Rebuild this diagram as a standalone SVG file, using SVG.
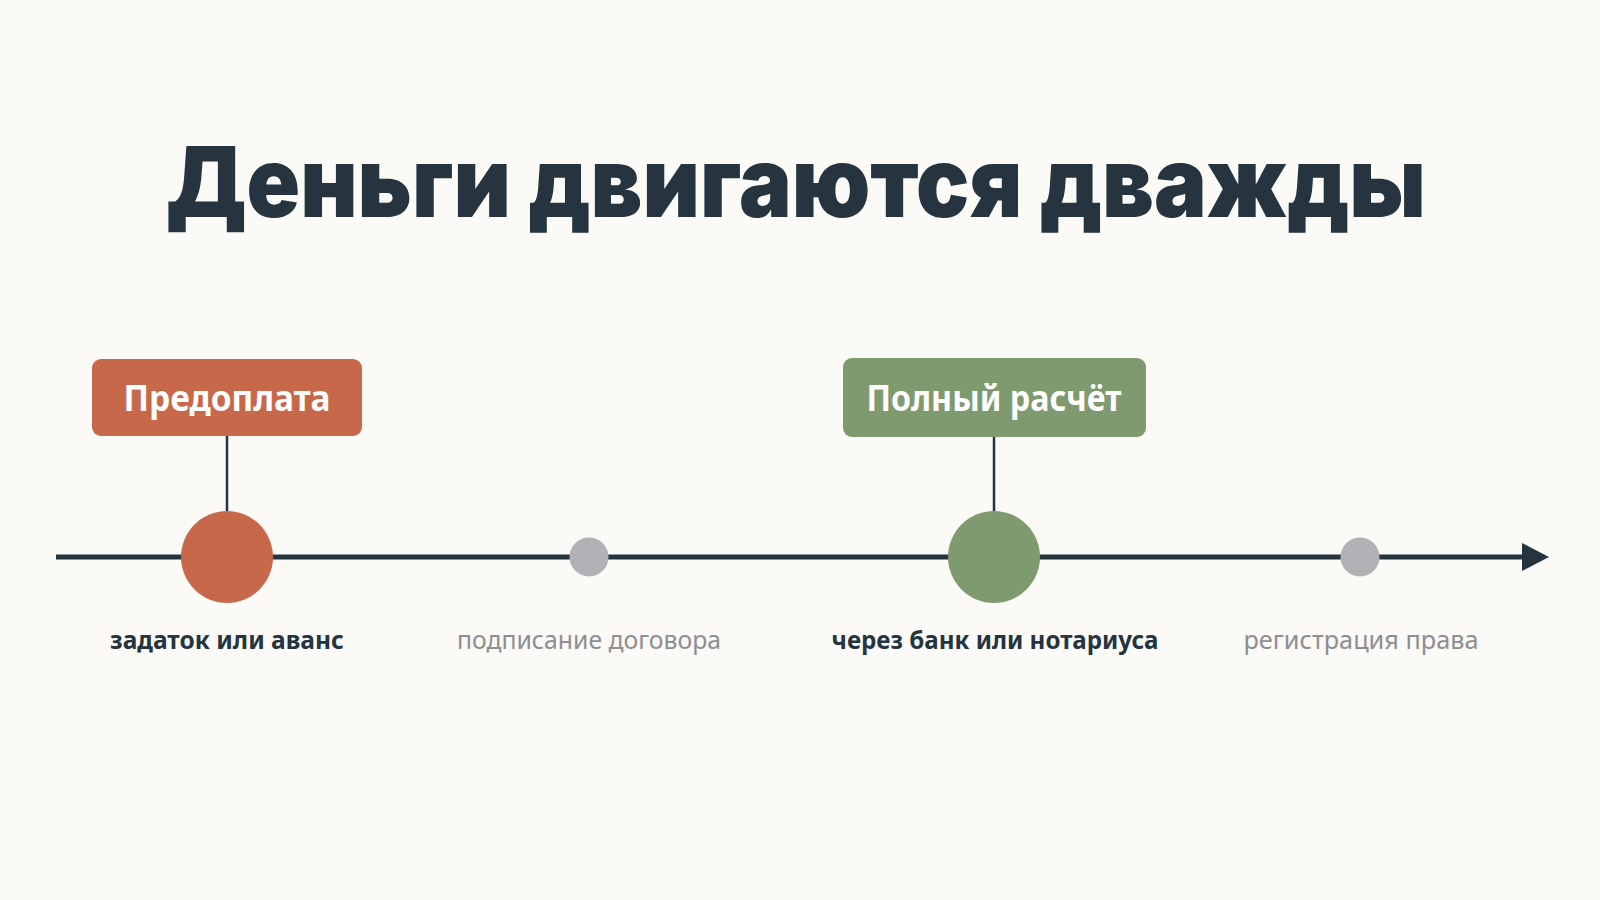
<svg xmlns="http://www.w3.org/2000/svg" width="1600" height="900" viewBox="0 0 1600 900">
<style>
.title{font-family:Inter,"Liberation Sans",sans-serif;font-weight:900;font-size:97px;fill:#25343f}
.tag{font-family:"Noto Sans","Open Sans",sans-serif;font-weight:700;font-size:35px;fill:#ffffff}
.lab{font-family:"Noto Sans","Open Sans",sans-serif;font-size:25px}
.dark{fill:#25343f;font-weight:700}
.mute{fill:#8e8e92}
.stem{stroke:#25343f;stroke-width:2.5}
</style>
<rect width="1600" height="900" fill="#fbfaf6"/>
<text id="title" class="title" x="796" y="217" text-anchor="middle" textLength="1260" lengthAdjust="spacingAndGlyphs">Деньги двигаются дважды</text>
<g id="connectors">
<line x1="56" y1="557" x2="1526" y2="557" stroke="#25343f" stroke-width="5"/>
<path d="M1522,543 L1549,557 L1522,571 Z" fill="#25343f"/>
<line class="stem" x1="227" y1="436" x2="227" y2="512"/>
<line class="stem" x1="994" y1="437" x2="994" y2="512"/>
</g>
<g id="prepay">
<rect x="92" y="359" width="270" height="77" rx="9" fill="#c8684b"/>
<text class="tag" x="227" y="411" text-anchor="middle" textLength="207" lengthAdjust="spacingAndGlyphs">Предоплата</text>
</g>
<g id="full">
<rect x="843" y="358" width="303" height="79" rx="9" fill="#7e9a6e"/>
<text class="tag" x="994" y="411" text-anchor="middle" textLength="255" lengthAdjust="spacingAndGlyphs">Полный расчёт</text>
</g>
<g id="m1">
<circle cx="227" cy="557" r="46" fill="#c8684b"/>
<text class="lab dark" x="227" y="649" text-anchor="middle" textLength="234" lengthAdjust="spacingAndGlyphs">задаток или аванс</text>
</g>
<g id="m2">
<circle cx="589" cy="557" r="19.5" fill="#b2b1b5"/>
<text class="lab mute" x="589" y="649" text-anchor="middle" textLength="264" lengthAdjust="spacingAndGlyphs">подписание договора</text>
</g>
<g id="m3">
<circle cx="994" cy="557" r="46" fill="#7e9a6e"/>
<text class="lab dark" x="995" y="649" text-anchor="middle" textLength="327" lengthAdjust="spacingAndGlyphs">через банк или нотариуса</text>
</g>
<g id="m4">
<circle cx="1360" cy="557" r="19.5" fill="#b2b1b5"/>
<text class="lab mute" x="1361" y="649" text-anchor="middle" textLength="235" lengthAdjust="spacingAndGlyphs">регистрация права</text>
</g>
</svg>
